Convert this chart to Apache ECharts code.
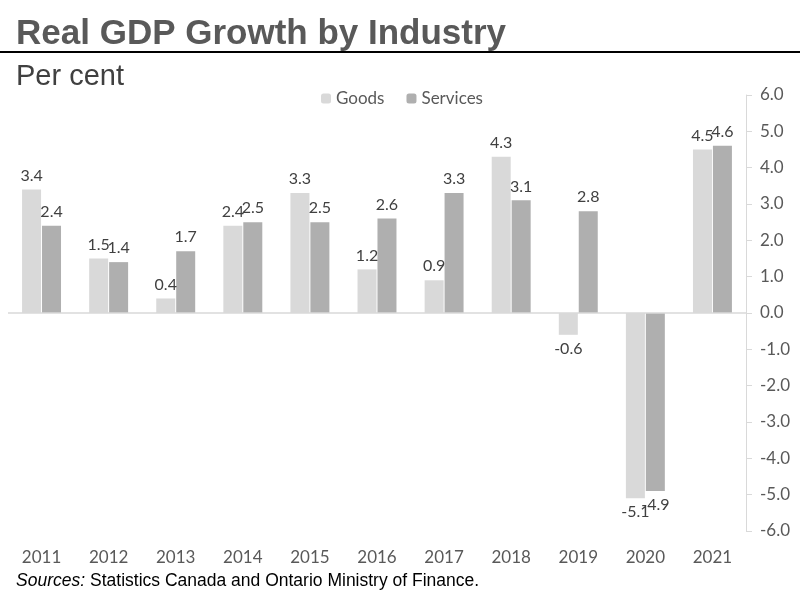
<!DOCTYPE html>
<html>
<head>
<meta charset="utf-8">
<script src="https://cdn.jsdelivr.net/npm/echarts@6/dist/echarts.min.js"></script>
<style>
  html, body { margin: 0; padding: 0; background: #fff; }
  #main { width: 800px; height: 600px; }
</style>
</head>
<body>
<div id="main"></div>
<script>
// data
var years = ['2011', '2012', '2013', '2014', '2015', '2016', '2017', '2018', '2019', '2020', '2021'];
var goods = [3.4, 1.5, 0.4, 2.4, 3.3, 1.2, 0.9, 4.3, -0.6, -5.1, 4.5];
var services = [2.4, 1.4, 1.7, 2.5, 2.5, 2.6, 3.3, 3.1, 2.8, -4.9, 4.6];

var labelFont = 'Lato, "Open Sans", sans-serif';

var chart = echarts.init(document.getElementById('main'));
chart.setOption({
    animation: false,
    color: ['#d9d9d9', '#afafaf'],
    title: [{
        text: 'Real GDP Growth by Industry',
        left: 11, top: 12,
        textStyle: { fontFamily: '"Liberation Sans", Arial, sans-serif', fontWeight: 'bold', fontSize: 35, color: '#595959' }
    }, {
        text: 'Per cent',
        left: 11, top: 57,
        textStyle: { fontFamily: '"Liberation Sans", Arial, sans-serif', fontWeight: 'normal', fontSize: 29, color: '#404040' }
    }, {
        text: '{i|Sources:} {n|Statistics Canada and Ontario Ministry of Finance.}',
        left: 11, top: 567,
        textStyle: {
            fontWeight: 'normal',
            rich: {
                i: { fontFamily: '"Liberation Sans", sans-serif', fontStyle: 'italic', fontWeight: 'normal', fontSize: 17.5, color: '#000' },
                n: { fontFamily: '"Liberation Sans", sans-serif', fontWeight: 'normal', fontSize: 17.5, color: '#000' }
            }
        }
    }],
    graphic: [{
        type: 'line',
        shape: { x1: 0, y1: 52, x2: 800, y2: 52 },
        style: { stroke: '#000', lineWidth: 2 }
    }],
    legend: {
        data: ['Goods', 'Services'],
        left: 316, top: 85,
        itemWidth: 10, itemHeight: 10, itemGap: 22,
        textStyle: { fontFamily: labelFont, fontSize: 17, color: '#595959' }
    },
    grid: { left: 8, right: 54, top: 95, bottom: 69 },
    xAxis: {
        type: 'category',
        data: years,
        axisLine: { show: false, onZero: false },
        axisTick: { show: false },
        axisLabel: { fontFamily: labelFont, fontSize: 17, color: '#595959', margin: 18 }
    },
    yAxis: {
        type: 'value',
        position: 'right',
        min: -6, max: 6, interval: 1,
        axisLine: { show: true, lineStyle: { color: '#d9d9d9' } },
        axisTick: { show: true, length: 6, lineStyle: { color: '#d9d9d9' } },
        splitLine: { show: false },
        axisLabel: {
            fontFamily: labelFont, fontSize: 17, color: '#595959', margin: 14,
            formatter: function (v) { return v.toFixed(1); }
        }
    },
    series: [{
        name: 'Goods',
        type: 'bar',
        data: goods,
        barWidth: 19,
        barGap: '5%',
        label: { show: true, position: 'outside', fontFamily: labelFont, fontSize: 16, color: '#404040', distance: 6,
                 formatter: function (p) { return p.value.toFixed(1); } },
        markLine: {
            silent: true, symbol: 'none', label: { show: false },
            lineStyle: { color: '#d9d9d9', type: 'solid', width: 1.5 },
            data: [{ yAxis: 0 }]
        }
    }, {
        name: 'Services',
        type: 'bar',
        data: services,
        barWidth: 19,
        label: { show: true, position: 'outside', fontFamily: labelFont, fontSize: 16, color: '#404040', distance: 6,
                 formatter: function (p) { return p.value.toFixed(1); } }
    }]
});
</script>
</body>
</html>
